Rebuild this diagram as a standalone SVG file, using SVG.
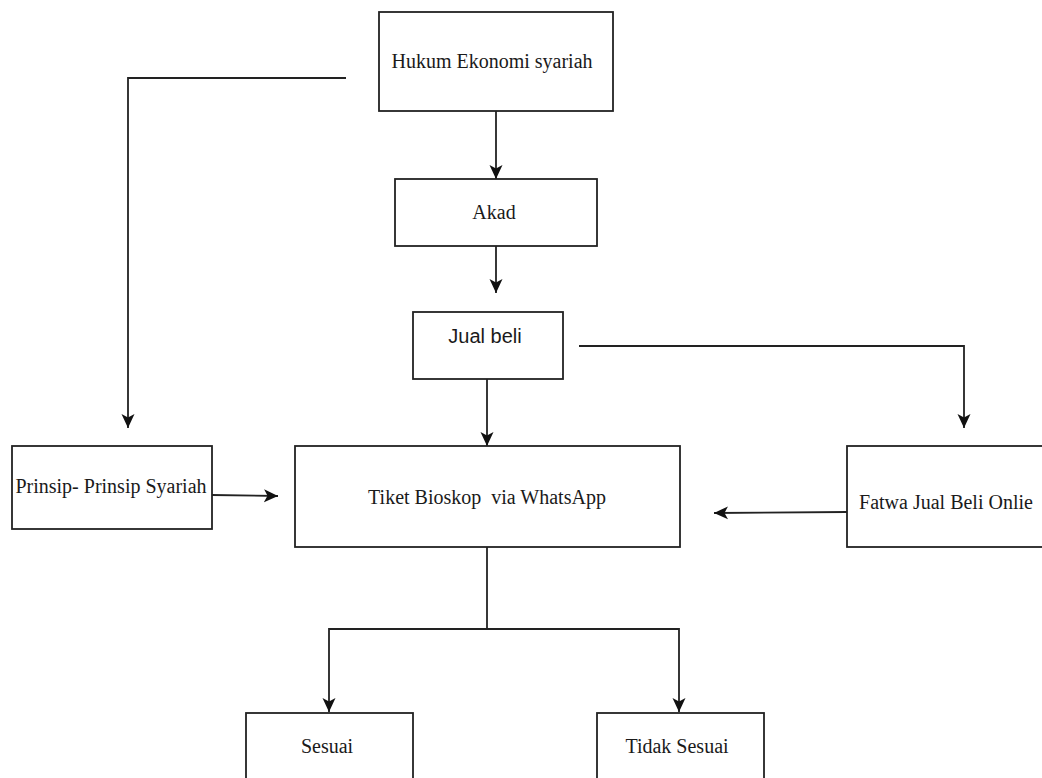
<svg xmlns="http://www.w3.org/2000/svg" width="1042" height="778" viewBox="0 0 1042 778">
<defs>
<marker id="arr" viewBox="0 0 14 14" refX="14" refY="7" markerWidth="14" markerHeight="14" markerUnits="userSpaceOnUse" orient="auto">
<path d="M0,0.5 L14,7 L0,13.5 L3.5,7 Z" fill="#111"/>
</marker>
</defs>
<style>
.box{fill:#fff;stroke:#222;stroke-width:1.8}
.t{font-family:"Liberation Serif","Times New Roman",serif;font-size:20px;fill:#1a1a1a;text-anchor:middle}
.s{font-family:"Liberation Sans",Arial,sans-serif;font-size:20px;fill:#1a1a1a;text-anchor:middle}
.c{fill:none;stroke:#222;stroke-width:1.8;marker-end:url(#arr)}
.n{fill:none;stroke:#222;stroke-width:1.8}
</style>
<rect width="1042" height="778" fill="#fff"/>
<g id="connectors">
<path class="c" d="M496,111 V179"/>
<path class="c" d="M496,246 V293"/>
<path class="c" d="M346,78 H128 V428"/>
<path class="c" d="M579,346 H964 V428"/>
<path class="c" d="M487,379 V446"/>
<path class="c" d="M212,495 L278,496"/>
<path class="c" d="M847,512 L714,513"/>
<path class="n" d="M487,547 V629"/>
<path class="c" d="M487,629 H329 V712"/>
<path class="c" d="M487,629 H679 V712"/>
</g>
<g id="hukum"><rect class="box" x="379" y="12" width="234" height="99"/><text class="t" x="492" y="68">Hukum Ekonomi syariah</text></g>
<g id="akad"><rect class="box" x="395" y="179" width="202" height="67"/><text class="t" x="494" y="219">Akad</text></g>
<g id="jualbeli"><rect class="box" x="413" y="312" width="150" height="67"/><text class="s" x="485" y="343">Jual beli</text></g>
<g id="prinsip"><rect class="box" x="12" y="446" width="200" height="83"/><text class="t" x="111" y="493">Prinsip- Prinsip Syariah</text></g>
<g id="tiket"><rect class="box" x="295" y="446" width="385" height="101"/><text class="t" x="487" y="504" xml:space="preserve">Tiket Bioskop  via WhatsApp</text></g>
<g id="fatwa"><rect class="box" x="847" y="446" width="210" height="101"/><text class="t" x="946" y="509">Fatwa Jual Beli Onlie</text></g>
<g id="sesuai"><rect class="box" x="246" y="713" width="167" height="80"/><text class="t" x="327" y="753">Sesuai</text></g>
<g id="tidak"><rect class="box" x="597" y="713" width="167" height="80"/><text class="t" x="677" y="753">Tidak Sesuai</text></g>
</svg>
